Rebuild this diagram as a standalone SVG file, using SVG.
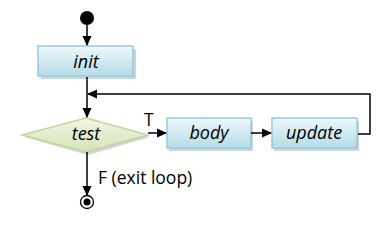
<svg xmlns="http://www.w3.org/2000/svg" width="386" height="225" viewBox="0 0 386 225">
<defs>
<linearGradient id="gb" x1="0" y1="0" x2="0" y2="1">
<stop offset="0" stop-color="#eef8fb"/><stop offset="1" stop-color="#b5dce7"/>
</linearGradient>
<linearGradient id="gg" x1="0" y1="0" x2="0" y2="1">
<stop offset="0" stop-color="#f1f6e6"/><stop offset="1" stop-color="#d4e3b5"/>
</linearGradient>
<marker id="ah" markerWidth="10" markerHeight="10" refX="9" refY="5" orient="auto" markerUnits="userSpaceOnUse">
<path d="M0,0.5 L10,5 L0,9.5 Z" fill="#000"/>
</marker>
<style>
.box{fill:url(#gb);stroke:#92cddc;stroke-width:1.5}
.sh{fill:#b0b8bd;opacity:0.6}
.dia{fill:url(#gg);stroke:#c3d69b;stroke-width:1.5}
.lbl{font-family:"Open Sans","Liberation Sans",sans-serif;font-size:18px;font-style:italic;text-anchor:middle;fill:#000}
.t{font-family:"Open Sans","Liberation Sans",sans-serif;font-size:17.5px;fill:#000}
.c{fill:none;stroke:#000;stroke-width:1.5}
</style>
</defs>
<g id="start"><circle cx="87" cy="18" r="7" fill="#000"/></g>
<g id="init">
<rect class="sh" x="41" y="49" width="95" height="30"/>
<rect class="box" x="38" y="46" width="95" height="30"/>
<text class="lbl" x="86" y="68">init</text>
</g>
<g id="test">
<polygon class="sh" points="88,121 150,137 88,155 24,137" opacity="0.3"/>
<polygon class="dia" points="86,118 148,135 86,152 22,135"/>
<text class="lbl" x="86" y="140">test</text>
</g>
<g id="body">
<rect class="sh" x="169" y="121" width="84" height="30"/>
<rect class="box" x="167" y="118" width="84" height="30"/>
<text class="lbl" x="209" y="139">body</text>
</g>
<g id="update">
<rect class="sh" x="274" y="121" width="85" height="30"/>
<rect class="box" x="272" y="118" width="85" height="30"/>
<text class="lbl" x="314" y="139">update</text>
</g>
<g id="end">
<circle cx="87" cy="202" r="6.5" fill="#fff" stroke="#000" stroke-width="1.3"/>
<circle cx="87" cy="202" r="3.5" fill="#000"/>
</g>
<g id="connectors">
<line class="c" x1="87" y1="25" x2="87" y2="45" marker-end="url(#ah)"/>
<line class="c" x1="87" y1="77" x2="87" y2="117" marker-end="url(#ah)"/>
<polyline class="c" points="358,134 370,134 370,94 88,94" marker-end="url(#ah)"/>
<line class="c" x1="148" y1="133" x2="166" y2="133" marker-end="url(#ah)"/>
<line class="c" x1="251" y1="133" x2="271" y2="133" marker-end="url(#ah)"/>
<line class="c" x1="87" y1="152" x2="87" y2="195" marker-end="url(#ah)"/>
<text class="t" x="144" y="126">T</text>
<text class="t" x="98" y="184">F (exit loop)</text>
</g>
</svg>
